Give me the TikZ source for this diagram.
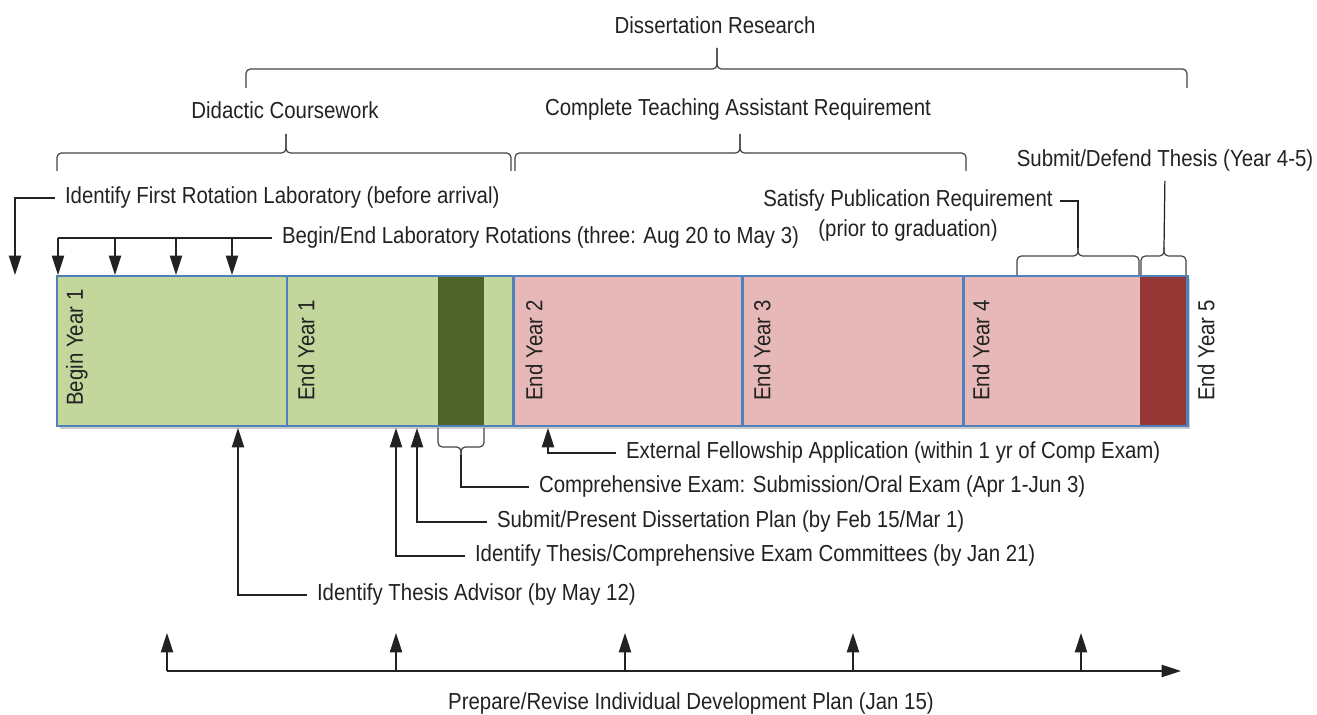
\documentclass[tikz,border=0pt]{standalone}
\usepackage{fontspec}
\setmainfont{Liberation Sans}[FakeStretch=0.88]
\usetikzlibrary{positioning,arrows.meta}
\definecolor{coursegreen}{HTML}{C3D69B}
\definecolor{examgreen}{HTML}{4F6228}
\definecolor{researchpink}{HTML}{E6B9B8}
\definecolor{defensered}{HTML}{953735}
\definecolor{barblue}{HTML}{4F81BD}
\definecolor{inkgray}{HTML}{222222}

\begin{document}
\begin{tikzpicture}[x=0.02cm,y=-0.02cm,
	lbl/.style={inner xsep=5.5pt,inner ysep=0pt,anchor=west,text=inkgray,font=\fontsize{13.2}{15}\selectfont},
	title/.style={lbl,anchor=center,inner xsep=0pt},
	yearlbl/.style={lbl,inner xsep=0pt,rotate=90},
	pointer/.style={draw=inkgray,line width=0.7pt,-{Triangle[length=11pt,width=7pt]}},
	leader/.style={draw=inkgray,line width=0.7pt},
	phase brace/.style={draw=inkgray!85,line width=0.7pt,rounded corners=2.5pt},
	]
	\useasboundingbox (0,0) rectangle (1317,715);
	%timeline bar
	\fill[black!20] (60,279) rectangle (1190,429);
	\fill[coursegreen] (57,276) rectangle (513,426);
	\fill[examgreen] (438,276) rectangle (484,426);
	\fill[researchpink] (513,276) rectangle (1187,426);
	\fill[defensered] (1140,276) rectangle (1187,426);
	\draw[barblue,line width=1.7pt] (57,276) rectangle (1187,426);
	\foreach \x in {287,513,742,963}
		\draw[barblue,line width=1.7pt] (\x,276) -- (\x,426);
	%year labels
	\node[yearlbl] (by1) at (77,406) {Begin Year 1};
	\node[yearlbl] (ey1) at (306,401) {End Year 1};
	\node[yearlbl] (ey2) at (534,401) {End Year 2};
	\node[yearlbl] (ey3) at (762,401) {End Year 3};
	\node[yearlbl] (ey4) at (981,401) {End Year 4};
	\node[yearlbl] (ey5) at (1206,401) {End Year 5};
	%braces: left, right, tip x, leg end y, bar y, tip y
	\foreach \xa/\xb/\xt/\ye/\yh/\yt in {246/1187/717/88/69/48, 57/511/286/171/153/134,
		515/966/740/171/153/134, 1017/1139/1078/275/256/248, 1141/1186/1164/275/256/248,
		438/484/461/428/447/455}{
		\draw[phase brace] (\xa,\ye) -- (\xa,\yh) -- (\xt,\yh) -- (\xt,\yt);
		\draw[phase brace] (\xb,\ye) -- (\xb,\yh) -- (\xt,\yh) -- (\xt,\yt);
	}
	%phases above
	\node[title] (dr) at (715,25) {Dissertation Research};
	\node[title] (dc) at (285,110) {Didactic Coursework};
	\node[title] (ta) at (738,110) {Complete Teaching Assistant Requirement};
	%thesis
	\node[title] (sdt) at (1165,161) {Submit/Defend Thesis (Year 4-5)};
	\coordinate (defTip) at (1164,248);
	\draw[leader,shorten <=5pt] (sdt.south) -- (defTip);
	\node[title] (pubA) at (908,201) {Satisfy Publication Requirement};
	\node[title] (pubB) at (908,231) {(prior to graduation)};
	\coordinate (pubTip) at (1078,248);
	\draw[leader,shorten <=4pt] (pubA.east) -| (pubTip);
	%rotations
	\node[lbl] (frl) at (55,198) {Identify First Rotation Laboratory (before arrival)};
	\coordinate (arrive) at (15,275);
	\draw[pointer] (frl.west) -| (arrive);
	\node[lbl] (rot) at (272,238) {Begin/End Laboratory Rotations (three: Aug 20 to May 3)};
	\draw[leader] (rot.west) -- (58,238);
	\foreach \x [count=\i] in {58,115,176,232}{
		\coordinate (r\i) at (\x,275);
		\draw[pointer] (r\i |- rot.west) -- (r\i);
	}
	%milestones below
	\node[lbl] (ext) at (616,453) {External Fellowship Application (within 1 yr of Comp Exam)};
	\coordinate (extTip) at (548,428);
	\draw[pointer] (ext.west) -| (extTip);
	\node[lbl] (comp) at (529,487) {Comprehensive Exam: Submission/Oral Exam (Apr 1-Jun 3)};
	\coordinate (compTip) at (461,455);
	\draw[leader] (comp.west) -| (compTip);
	\node[lbl] (plan) at (487,522) {Submit/Present Dissertation Plan (by Feb 15/Mar 1)};
	\coordinate (planTip) at (417,428);
	\draw[pointer] (plan.west) -| (planTip);
	\node[lbl] (cmte) at (465,556) {Identify Thesis/Comprehensive Exam Committees (by Jan 21)};
	\coordinate (cmteTip) at (396,428);
	\draw[pointer] (cmte.west) -| (cmteTip);
	\node[lbl] (adv) at (307,595) {Identify Thesis Advisor (by May 12)};
	\coordinate (advTip) at (238,428);
	\draw[pointer] (adv.west) -| (advTip);
	%development plan
	\coordinate (idpStart) at (167,671);
	\coordinate (idpEnd) at (1181,671);
	\draw[pointer] (idpStart) -- (idpEnd);
	\foreach \x [count=\i] in {167,396,625,853,1081}{
		\coordinate (idp\i) at (\x,633);
		\draw[pointer] (idp\i |- idpStart) -- (idp\i);
	}
	\node[title] (idp) at (691,703) {Prepare/Revise Individual Development Plan (Jan 15)};
\end{tikzpicture}
\end{document}
